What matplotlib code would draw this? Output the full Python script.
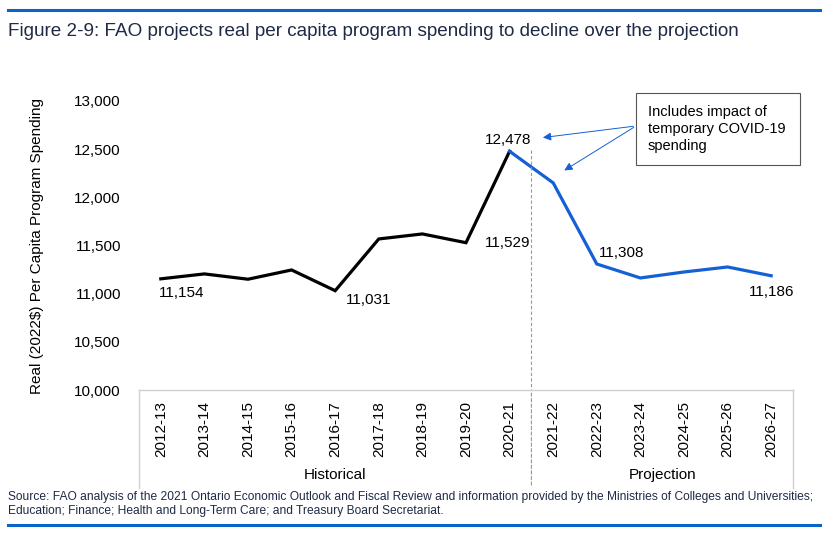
import matplotlib
matplotlib.use("Agg")
import matplotlib.pyplot as plt
from matplotlib.patches import Rectangle
from matplotlib.lines import Line2D

plt.rcParams['font.family'] = ['Liberation Sans', 'DejaVu Sans']

# data
years = ['2012-13', '2013-14', '2014-15', '2015-16', '2016-17', '2017-18', '2018-19',
         '2019-20', '2020-21', '2021-22', '2022-23', '2023-24', '2024-25', '2025-26', '2026-27']
spending = [11154, 11205, 11150, 11246, 11031, 11568, 11620, 11529, 12478,
            12150, 11308, 11163, 11225, 11277, 11186]
n_hist = 9  # 2012-13 .. 2020-21 are historical
yticks = [10000, 10500, 11000, 11500, 12000, 12500, 13000]

navy = '#1f2a44'
blue = '#1560d4'
rule = '#0a64c8'
grey = '#d0d0d0'

fig = plt.figure(figsize=(8.32, 5.34), dpi=100)
ax = fig.add_axes([139 / 832, (534 - 390) / 534, 654 / 832, 289 / 534])

x = list(range(len(years)))
ax.plot(x[:n_hist], spending[:n_hist], color='black', lw=2.3, solid_joinstyle='miter')
ax.plot(x[n_hist - 1:], spending[n_hist - 1:], color=blue, lw=2.3, solid_joinstyle='miter')

ax.set_xlim(-0.5, len(years) - 0.5)
ax.set_ylim(10000, 13000)
ax.set_yticks(yticks)
ax.set_yticklabels([f'{v:,}' for v in yticks], fontsize=11)
ax.set_xticks(x)
ax.set_xticklabels(years, rotation=90, fontsize=11)
ax.tick_params(axis='both', length=0)
ax.tick_params(axis='y', pad=13)
ax.tick_params(axis='x', pad=8)
for s in ['top', 'right', 'left']:
    ax.spines[s].set_visible(False)
ax.spines['bottom'].set_color(grey)
ax.spines['bottom'].set_linewidth(1)

ax.set_ylabel('Real (2022$) Per Capita Program Spending', fontsize=11)
ax.yaxis.set_label_coords(-0.146, 0.5)

# category box lines
ybot = -(488 - 390) / 289
for xf in [0, 1]:
    ax.add_line(Line2D([xf, xf], [0, ybot], transform=ax.transAxes, color=grey,
                       lw=1, clip_on=False))
sep = n_hist - 0.5
ax.plot([sep, sep], [12492, 10000], color='#999999', lw=0.8, ls=(0, (3, 2)), clip_on=False)
ax.annotate('', xy=(sep, 0), xycoords=('data', 'axes fraction'),
            xytext=(sep, ybot), textcoords=('data', 'axes fraction'),
            arrowprops=dict(arrowstyle='-', color='#999999', lw=0.8, ls=(0, (3, 2))))

ax.text((n_hist - 1) / 2, -(475 - 390) / 289, 'Historical', transform=ax.get_xaxis_transform(),
        ha='center', va='center', fontsize=11)
ax.text((n_hist + len(years) - 1) / 2, -(475 - 390) / 289, 'Projection',
        transform=ax.get_xaxis_transform(), ha='center', va='center', fontsize=11)

# data labels
labels = {0: (15, -10), 4: (24, -7), 7: (30, 0), 8: (-1, 8), 10: (18, 8), 14: (0, -12)}
for i, off in labels.items():
    ax.annotate(f'{spending[i]:,}', (i, spending[i]), xytext=off, textcoords='offset points',
                ha='center', va='center', fontsize=11)

# callout
fig.patches.append(Rectangle((636 / 832, (534 - 165) / 534), 164 / 832, 72 / 534,
                             transform=fig.transFigure, facecolor='white',
                             edgecolor='#555555', lw=0.8))
fig.text(648 / 832, (534 - 129) / 534, 'Includes impact of\ntemporary COVID-19\nspending',
         ha='left', va='center', fontsize=10.5, linespacing=1.3)
for tgt in [(8.70, 12617), (9.20, 12264)]:
    ax.annotate('', xy=tgt, xytext=(10.90, 12741),
                arrowprops=dict(arrowstyle='-|>', color=blue, lw=0.7, mutation_scale=12))

# title, rules, source
fig.add_artist(Line2D([8 / 832, 820 / 832], [1 - 10 / 534] * 2, color=rule, lw=2.2))
fig.add_artist(Line2D([8 / 832, 820 / 832], [1 - 525 / 534] * 2, color=rule, lw=2.2))
fig.text(8 / 832, 1 - 31 / 534,
         'Figure 2-9: FAO projects real per capita program spending to decline over the projection',
         fontsize=13.6, color=navy, va='center', ha='left')
fig.text(8 / 832, 1 - 504 / 534,
         'Source: FAO analysis of the 2021 Ontario Economic Outlook and Fiscal Review and information '
         'provided by the Ministries of Colleges and Universities;\nEducation; Finance; Health and '
         'Long-Term Care; and Treasury Board Secretariat.',
         fontsize=8.65, color=navy, va='center', ha='left', linespacing=1.2)

fig.savefig('out.png', dpi=100)
